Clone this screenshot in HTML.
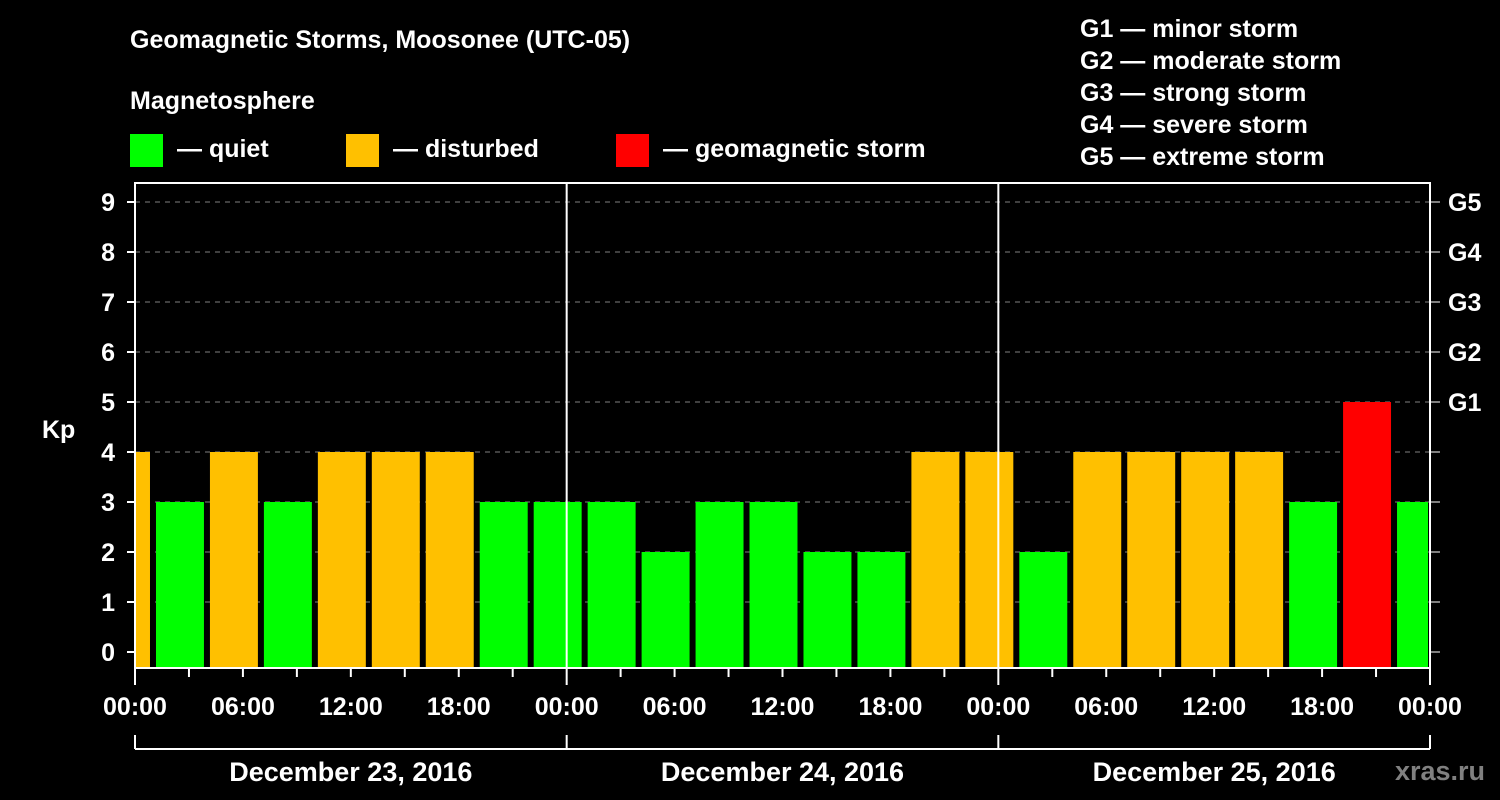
<!DOCTYPE html>
<html><head><meta charset="utf-8"><style>
html,body{margin:0;padding:0;background:#000;}
svg{display:block;font-family:"Liberation Sans",Arial,sans-serif;font-weight:bold;}
</style></head><body>
<svg id="chart" width="1500" height="800" viewBox="0 0 1500 800">
<rect x="0" y="0" width="1500" height="800" fill="#000"/>
<text x="130" y="48" fill="#fff" font-size="25">Geomagnetic Storms, Moosonee (UTC-05)</text>
<text x="130" y="109" fill="#fff" font-size="25">Magnetosphere</text>
<g><rect x="130" y="134" width="33" height="33" fill="#00ff00"/><text x="177" y="157" fill="#fff" font-size="25">— quiet</text></g>
<g><rect x="346" y="134" width="33" height="33" fill="#ffc000"/><text x="393" y="157" fill="#fff" font-size="25">— disturbed</text></g>
<g><rect x="616" y="134" width="33" height="33" fill="#ff0000"/><text x="663" y="157" fill="#fff" font-size="25">— geomagnetic storm</text></g>
<g font-size="25" fill="#fff">
<text x="1080" y="37">G1 — minor storm</text>
<text x="1080" y="69">G2 — moderate storm</text>
<text x="1080" y="101">G3 — strong storm</text>
<text x="1080" y="133">G4 — severe storm</text>
<text x="1080" y="165">G5 — extreme storm</text>
</g>
<text x="42" y="438" fill="#fff" font-size="25">Kp</text>
<g id="plot"></g>
<text x="1485" y="780" fill="#808080" font-size="27" text-anchor="end">xras.ru</text>
</svg>
<script>
const binStartHours = [-2,1,4,7,10,13,16,19,22,25,28,31,34,37,40,43,46,49,52,55,58,61,64,67,70];
const kpValues = [4,3,4,3,4,4,4,3,3,3,2,3,3,2,2,4,4,2,4,4,4,4,3,5,3];
const dayLabels = ["December 23, 2016","December 24, 2016","December 25, 2016"];
const hourTickLabels = ["00:00","06:00","12:00","18:00","00:00","06:00","12:00","18:00","00:00","06:00","12:00","18:00","00:00"];
const gLabels = ["G1","G2","G3","G4","G5"];

const X0=135, X1=1430, TOP=183, BOT=668, HOURS=72;
const xs = h => X0 + (h/HOURS)*(X1-X0);
const ys = k => 652 - k*50;
const NS="http://www.w3.org/2000/svg";
const plot=document.getElementById('plot');
function mk(tag, attrs){const e=document.createElementNS(NS,tag);for(const k in attrs)e.setAttribute(k,attrs[k]);plot.appendChild(e);return e;}

// grid
for(let k=1;k<=9;k++){
  const l=mk('line',{x1:X0,x2:X1,y1:ys(k),y2:ys(k),stroke:'#808080','stroke-width':1,'stroke-dasharray':'5,5'});
  
  
}
// bars
binStartHours.forEach((h,i)=>{
  const v=kpValues[i];
  let a=Math.max(xs(h)+3,X0), b=Math.min(xs(h+3)-3,X1-2);
  const c=v>=5?'#ff0000':(v>=4?'#ffc000':'#00ff00');
  const r=mk('rect',{x:a,y:ys(v),width:b-a,height:BOT-ys(v),fill:c});
  
  
});
// day separators
[24,48].forEach(h=>{
  const l=mk('line',{x1:xs(h),x2:xs(h),y1:TOP,y2:BOT,stroke:'#fff','stroke-width':2});
  
  
});
// frame
const fr=mk('rect',{x:X0,y:TOP,width:X1-X0,height:BOT-TOP,fill:'none',stroke:'#fff','stroke-width':2});


// y ticks & labels
for(let k=0;k<=9;k++){
  const t=mk('line',{x1:127,x2:X0,y1:ys(k),y2:ys(k),stroke:'#fff','stroke-width':2});
  
  
  const t2=mk('line',{x1:X1,x2:1440,y1:ys(k),y2:ys(k),stroke:'#fff','stroke-width':1});
  
  
  const tx=mk('text',{x:115,y:ys(k)+9,fill:'#fff','font-size':25,'text-anchor':'end'});
  tx.textContent=k;
  
  
}
gLabels.forEach((g,i)=>{
  const tx=mk('text',{x:1448,y:ys(i+5)+9,fill:'#fff','font-size':25});
  tx.textContent=g;
  
  
});
// x ticks
for(let h=0;h<=HOURS;h+=3){
  const major=h%24===0;
  const t=mk('line',{x1:xs(h),x2:xs(h),y1:BOT,y2:major?685:677,stroke:'#fff','stroke-width':2});
  
  
}
hourTickLabels.forEach((s,i)=>{
  const tx=mk('text',{x:xs(i*6),y:715,fill:'#fff','font-size':25,'text-anchor':'middle'});
  tx.textContent=s;
  
  
});
// date bracket
const br=mk('line',{x1:X0,x2:X1,y1:749,y2:749,stroke:'#fff','stroke-width':2});


[0,24,48,72].forEach(h=>{
  const t=mk('line',{x1:xs(h),x2:xs(h),y1:735,y2:749,stroke:'#fff','stroke-width':2});
  
  
});
dayLabels.forEach((d,i)=>{
  const tx=mk('text',{x:xs(i*24+12),y:781,fill:'#fff','font-size':27,'text-anchor':'middle'});
  tx.textContent=d;
  
  
});
</script>
</body></html>
